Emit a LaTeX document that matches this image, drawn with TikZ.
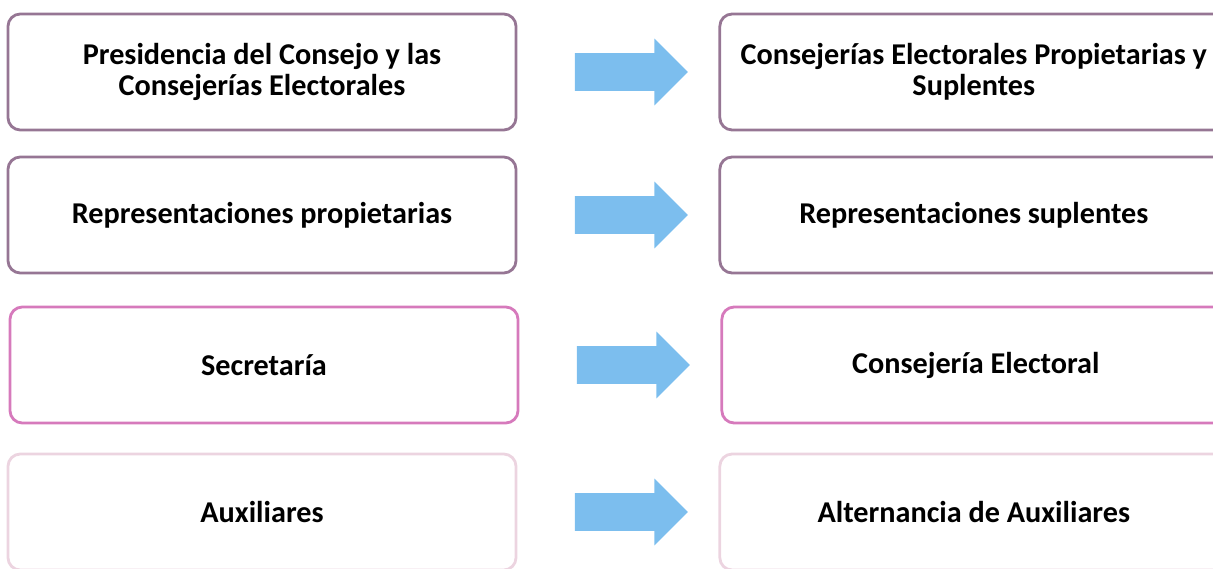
\documentclass[tikz,border=0pt]{standalone}
\usepackage{fontspec}
\setmainfont{Carlito}
\usetikzlibrary{positioning,shapes.arrows}

\definecolor{arrowblue}{RGB}{124,190,238}
\definecolor{mauve}{RGB}{150,118,148}
\definecolor{rosa}{RGB}{214,122,188}
\definecolor{palerosa}{RGB}{236,212,224}

\begin{document}
\begin{tikzpicture}[node distance=4.02cm,
    box/.style={draw=#1,line width=1.6pt,rounded corners=7pt,minimum width=10.16cm,
      minimum height=2.32cm,align=center,font=\fontsize{17.2}{17.8}\selectfont\bfseries},
    flecha/.style={single arrow,fill=arrowblue,minimum height=2.26cm,inner xsep=0pt,
      inner ysep=0.37cm,single arrow head extend=0.29cm}]
            \useasboundingbox (0,0) rectangle (24.26,-11.38);

            \node[box=mauve]    (P1) at (5.24,-1.44)  {Presidencia del Consejo y las\\Consejerías Electorales};
            \node[box=mauve]    (P2) at (5.24,-4.30)  {Representaciones propietarias};
            \node[box=rosa]     (P3) at (5.28,-7.30)  {Secretaría};
            \node[box=palerosa] (P4) at (5.24,-10.24) {Auxiliares};

            \node[box=mauve]    (C1) [right=of P1] {Consejerías Electorales Propietarias y\\Suplentes};
            \node[box=mauve]    (C2) [right=of P2] {Representaciones suplentes};
            \node[box=rosa]     (C3) [right=of P3] {Consejería Electoral};
            \node[box=palerosa] (C4) [right=of P4] {Alternancia de Auxiliares};

            \node[flecha] (F1) [right=1.14cm of P1] {};
            \node[flecha] (F2) [right=1.14cm of P2] {};
            \node[flecha] (F3) [right=1.14cm of P3] {};
            \node[flecha] (F4) [right=1.14cm of P4] {};

          \end{tikzpicture}
\end{document}
